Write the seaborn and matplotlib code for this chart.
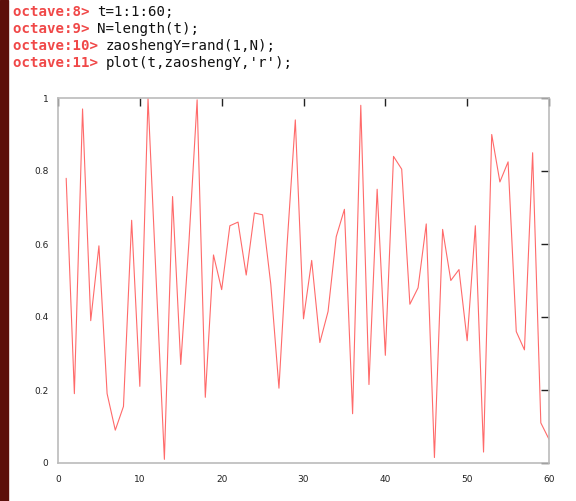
import matplotlib
matplotlib.use("Agg")
import matplotlib.pyplot as plt
import seaborn as sns
import numpy as np
import pandas as pd

t = list(range(1, 61))
zaoshengY = [0.78, 0.19, 0.97, 0.39, 0.595, 0.19, 0.09, 0.155, 0.665, 0.21,
             1.0, 0.5, 0.01, 0.73, 0.27, 0.605, 0.995, 0.18, 0.57, 0.475,
             0.65, 0.66, 0.515, 0.685, 0.68, 0.49, 0.205, 0.6, 0.94, 0.395,
             0.555, 0.33, 0.415, 0.62, 0.695, 0.135, 0.98, 0.215, 0.75, 0.295,
             0.84, 0.805, 0.435, 0.48, 0.655, 0.015, 0.64, 0.5, 0.53, 0.335,
             0.65, 0.03, 0.9, 0.77, 0.825, 0.36, 0.31, 0.85, 0.11, 0.065]
prompts = ["octave:8> ", "octave:9> ", "octave:10> ", "octave:11> "]
commands = ["t=1:1:60;", "N=length(t);", "zaoshengY=rand(1,N);", "plot(t,zaoshengY,'r');"]
xticks = [0, 10, 20, 30, 40, 50, 60]
yticks = [0, 0.2, 0.4, 0.6, 0.8, 1]
yticklabels = ["0", "0.2", "0.4", "0.6", "0.8", "1"]

W, H = 576, 501
fig = plt.figure(figsize=(W / 100, H / 100), dpi=100)
sns.set_style("white")
plt.rcParams['font.family'] = ['DejaVu Sans']

fig.patches.append(plt.Rectangle((0, 0), 8 / W, 1, transform=fig.transFigure,
                                 color="#5c0f0a", zorder=0))

cw = 8.45
for i, (p, c) in enumerate(zip(prompts, commands)):
    y = 1 - (12 + 17 * i) / H
    fig.text(13 / W, y, p, family="DejaVu Sans Mono", fontsize=10.2, color="#f04848",
             weight="bold", va="center")
    fig.text((13 + cw * len(p)) / W, y, c, family="DejaVu Sans Mono", fontsize=10.2,
             color="#101010", va="center")

ax = fig.add_axes([58 / W, 1 - 463 / H, (549 - 58) / W, (463 - 98) / H])
df = pd.DataFrame({"t": t, "y": zaoshengY})
sns.lineplot(data=df, x="t", y="y", ax=ax, color="#ff5050", linewidth=0.8, alpha=0.85)
ax.set_xlim(0, 60)
ax.set_ylim(0, 1)
ax.set_xticks(xticks)
ax.set_xticklabels([str(v) for v in xticks])
ax.set_yticks(yticks)
ax.set_yticklabels(yticklabels)
ax.set_xlabel("")
ax.set_ylabel("")
ax.tick_params(direction="in", length=6, width=1, labelsize=6.5, top=True, right=True,
               colors="#222222", pad=7)
ax.tick_params(axis="x", pad=9)
for s in ax.spines.values():
    s.set_color("#bbbbbb")
    s.set_linewidth(1.2)

fig.savefig("out.png", dpi=100)
